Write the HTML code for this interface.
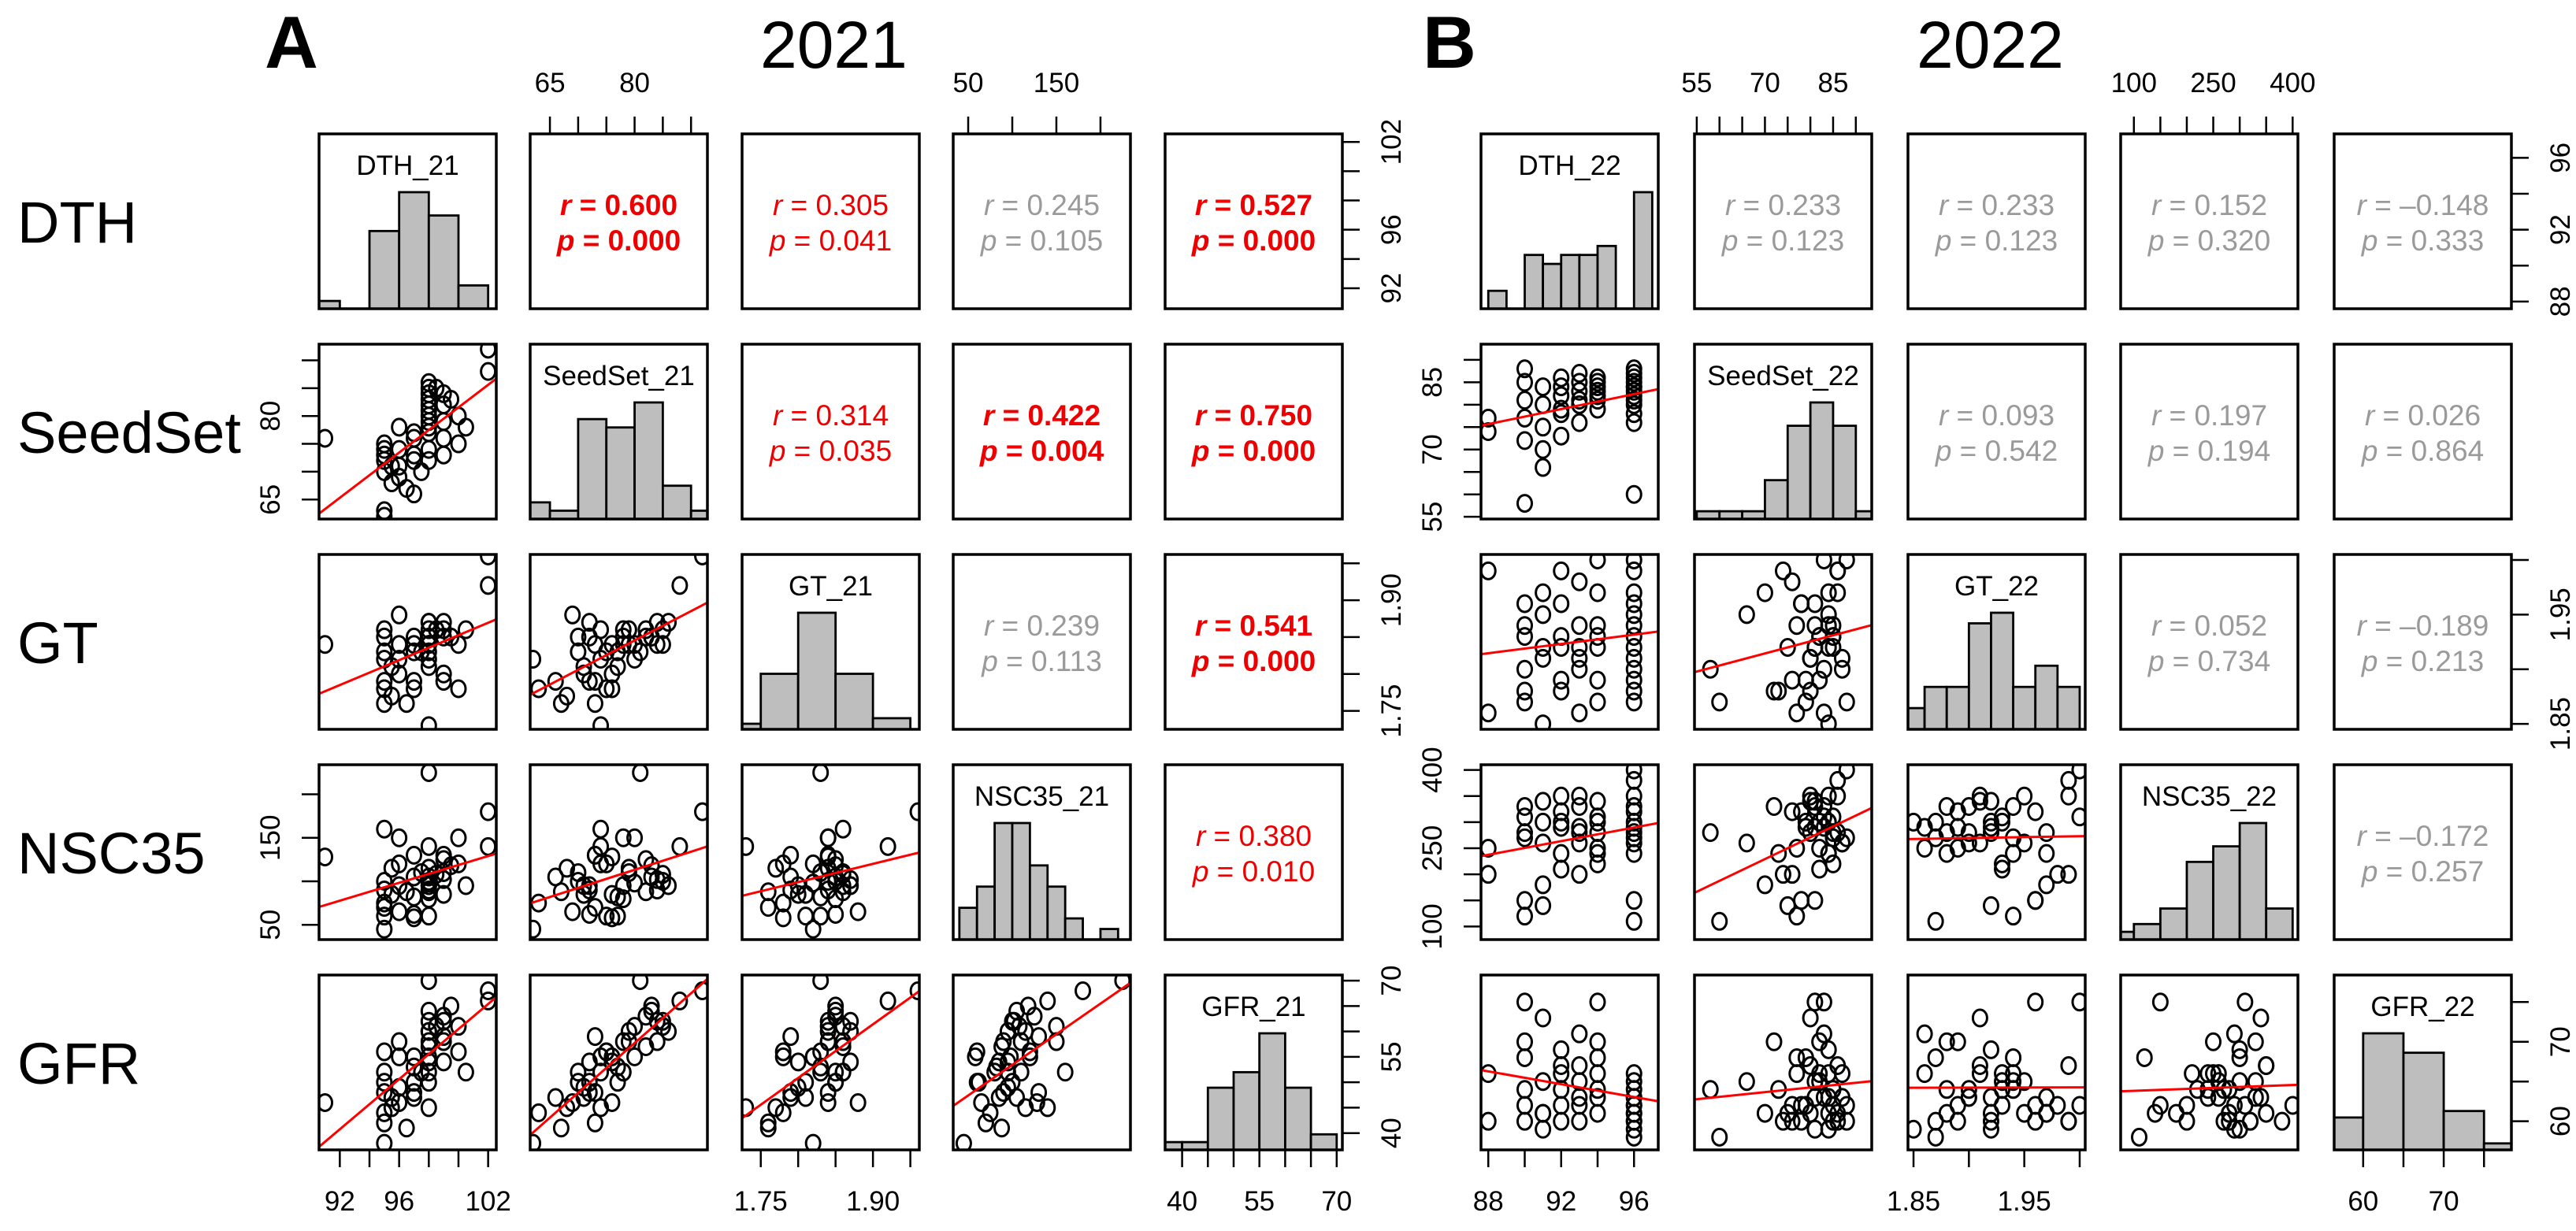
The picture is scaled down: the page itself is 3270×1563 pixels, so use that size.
<!DOCTYPE html>
<html><head><meta charset="utf-8"><style>
html,body{margin:0;padding:0;background:#fff;}
svg{display:block;font-family:"Liberation Sans",Arial,sans-serif;}
</style></head><body>
<svg id="chart" width="3270" height="1563" viewBox="0 0 3270 1563" xmlns="http://www.w3.org/2000/svg">
<text x="336" y="86" font-size="94" font-weight="bold">A</text>
<text x="965" y="86" font-size="84">2021</text>
<text x="1806" y="86" font-size="94" font-weight="bold">B</text>
<text x="2433" y="86" font-size="84">2022</text>
<g font-size="74">
<text x="22" y="308">DTH</text>
<text x="22" y="575">SeedSet</text>
<text x="22" y="842">GT</text>
<text x="22" y="1109">NSC35</text>
<text x="22" y="1376">GFR</text>
</g>
</svg>
<script>
// ---- 2021 data (DTH, SeedSet, GT, NSC35, GFR) ----
const dth21 = [91,95,95,95,95,95,95,95.5,95,95.5,96,96,96,96,96.5,97,97,97,97,97,97.5,98,98,98,98,98,98,98,98,98,98,98,98,98.5,99,99,99,99,99,99.5,100,100,100.5,102,102];
const seed21 = [76,62,63,72,74,73,70,71,75,68,78,71,69,74,67,72,66,77,73,76,70,86,85,84,83,82,80,79,78,77,74,72,81,85,84,82,79,76,73,83,80,75,78,92,88];
const gt21 = [1.84,1.82,1.78,1.79,1.86,1.76,1.85,1.81,1.83,1.77,1.84,1.80,1.88,1.82,1.76,1.85,1.79,1.83,1.84,1.78,1.83,1.87,1.84,1.84,1.85,1.86,1.82,1.84,1.85,1.81,1.73,1.87,1.83,1.86,1.87,1.85,1.86,1.80,1.79,1.85,1.84,1.78,1.86,1.96,1.92];
const nsc21 = [128,45,75,90,160,70,100,85,60,115,150,95,65,120,88,62,105,82,130,58,110,95,100,90,105,88,98,115,80,60,140,95,225,108,102,125,110,85,130,118,150,120,95,180,140];
const gfr21 = [46,38,44,48,52,42,50,47,56,45,58,49,46,55,41,50,47,53,48,55,52,60,62,58,64,57,55,60,52,50,45,54,70,61,62,63,58,54,59,65,61,56,52,68,66];
// ---- 2022 data ----
const dth22 = [88,88,90,90,90,90,90,90,91,91,91,91,91,92,92,92,92,92,92,93,93,93,93,93,93,94,94,94,94,94,94,94,96,96,96,96,96,96,96,96,96,96,96,96,96];
const seed22 = [77,74,85,81,72,58,77,88,80,70,84,66,75,86,79,82,78,73,84,87,81,83,76,80,85,83,82,84,81,86,79,85,88,86,84,83,82,81,80,85,87,78,76,60,84];
const gt22 = [1.86,1.99,1.93,1.96,1.88,1.90,1.94,1.87,1.91,1.97,1.85,1.95,1.92,1.99,1.89,1.93,1.96,1.88,1.92,1.90,1.94,1.86,1.98,1.91,1.92,2.00,1.89,1.94,1.92,1.97,1.87,1.93,2.00,1.99,1.95,1.90,1.93,1.92,1.88,1.94,1.91,1.96,1.89,1.87,1.97];
const nsc22 = [250,200,310,150,330,280,120,270,340,180,300,260,140,350,290,210,320,240,300,260,330,290,200,350,280,310,250,240,340,280,300,220,400,380,350,330,300,290,280,270,260,150,320,110,240];
const gfr22 = [66,60,62,75,70,64,68,60,73,61,59,65,61,67,62,66,60,64,69,63,65,71,62,67,60,75,70,66,63,61,68,64,62,60,61,63,65,59,61,64,66,62,60,58,63];
// ---- histogram counts ----
const hist21Counts = [[1,0,10,15,12,3],[2,1,12,11,14,4,1],[1,10,21,10,2],[3,5,11,11,7,5,2,0,1],[1,1,8,10,15,8,2]];
const hist21Starts = [90,60,1.70,40,35];
const hist21Widths = [2,5,0.05,20,5];
const hist22Counts = [[2,0,6,5,6,6,7,0,13],[1,1,1,5,12,15,12,1],[2,4,4,10,11,4,6,4],[1,2,4,10,12,15,4],[5,18,15,6,1]];
const hist22Starts = [88,55,1.84,50,55];
const hist22Widths = [1,5,0.02,50,5];
// ---- correlation text (upper panels) ----
const corr21R = {"0-1":"0.600","0-2":"0.305","0-3":"0.245","0-4":"0.527","1-2":"0.314","1-3":"0.422","1-4":"0.750","2-3":"0.239","2-4":"0.541","3-4":"0.380"};
const corr21P = {"0-1":"0.000","0-2":"0.041","0-3":"0.105","0-4":"0.000","1-2":"0.035","1-3":"0.004","1-4":"0.000","2-3":"0.113","2-4":"0.000","3-4":"0.010"};
const corr21Style = {"0-1":"bold","0-2":"red","0-3":"grey","0-4":"bold","1-2":"red","1-3":"bold","1-4":"bold","2-3":"grey","2-4":"bold","3-4":"red"};
const corr22R = {"0-1":"0.233","0-2":"0.233","0-3":"0.152","0-4":"\u20130.148","1-2":"0.093","1-3":"0.197","1-4":"0.026","2-3":"0.052","2-4":"\u20130.189","3-4":"\u20130.172"};
const corr22P = {"0-1":"0.123","0-2":"0.123","0-3":"0.320","0-4":"0.333","1-2":"0.542","1-3":"0.194","1-4":"0.864","2-3":"0.734","2-4":"0.213","3-4":"0.257"};
// ---- axis ticks ----
const ticks21 = [[92,94,96,98,100,102],[65,70,75,80,85,90],[1.75,1.80,1.85,1.90,1.95],[50,100,150,200],[40,45,50,55,60,65,70]];
const tickLabels21 = [["92","","96","","","102"],["65","","","80","",""],["1.75","","","1.90",""],["50","","150",""],["40","","","55","","","70"]];
const ticks22 = [[88,90,92,94,96],[55,60,65,70,75,80,85,90],[1.85,1.90,1.95,2.00],[100,150,200,250,300,350,400],[60,65,70,75]];
const tickLabels22 = [["88","","92","","96"],["55","","","70","","","85",""],["1.85","","1.95",""],["100","","","250","","","400"],["60","","70",""]];

const names = ["DTH","SeedSet","GT","NSC35","GFR"];
const NS = "http://www.w3.org/2000/svg";
const svg = document.getElementById('chart');
function mk(tag, attrs, parent){const e=document.createElementNS(NS,tag);for(const k in attrs)e.setAttribute(k,attrs[k]);(parent||svg).appendChild(e);return e;}

const tops=[170,437,704,971,1238], PH=222, PW=225;

function drawBlock(cfg){
  const data=cfg.data, lefts=cfg.lefts, dom=cfg.domains;
  const g=mk('g',{});
  
  
  const sx=(v,j)=>lefts[j]+(v-dom[j][0])/(dom[j][1]-dom[j][0])*PW;
  const sy=(v,i)=>tops[i]+PH-(v-dom[i][0])/(dom[i][1]-dom[i][0])*PH;
  for(let i=0;i<5;i++)for(let j=0;j<5;j++){
    const L=lefts[j],T=tops[i];
    const pg=mk('g',{},g);
    
    
    const cid=cfg.id+'c'+i+j;
    const cp=mk('clipPath',{id:cid},pg);mk('rect',{x:L,y:T,width:PW,height:PH},cp);
    const inner=mk('g',{'clip-path':'url(#'+cid+')'},pg);
    if(i===j){
      const counts=cfg.hc[i], mx=Math.max(...counts);
      counts.forEach((c,k)=>{
        if(c<=0) return;
        const a=cfg.hs[i]+k*cfg.hw[i], b=a+cfg.hw[i];
        const x1=sx(a,j),x2=sx(b,j),h=c/(1.5*mx)*PH;
        const r=mk('rect',{x:x1,y:T+PH-h,width:x2-x1,height:h,fill:'#bebebe',stroke:'#000','stroke-width':2.8},inner);
        
        
      });
      const t=mk('text',{x:L+PW/2,y:T+52,'font-size':35,'text-anchor':'middle'},pg);
      t.textContent=names[i]+cfg.suffix;
      
      
    } else if(i>j){
      const xs=data[j], ys=data[i], n=xs.length;
      let mxv=0,myv=0;for(let k=0;k<n;k++){mxv+=xs[k];myv+=ys[k];}mxv/=n;myv/=n;
      let sxy=0,sxx=0;for(let k=0;k<n;k++){sxy+=(xs[k]-mxv)*(ys[k]-myv);sxx+=(xs[k]-mxv)**2;}
      const b=sxy/sxx,a=myv-b*mxv;
      for(let k=0;k<n;k++){
        const c=mk('ellipse',{cx:sx(xs[k],j),cy:sy(ys[k],i),rx:9,ry:10.5,fill:'none',stroke:'#000','stroke-width':3},inner);
        
        
      }
      const x0=dom[j][0],x1=dom[j][1];
      const ln=mk('line',{x1:sx(x0,j),y1:sy(a+b*x0,i),x2:sx(x1,j),y2:sy(a+b*x1,i),stroke:'#f00','stroke-width':3},inner);
      
      
    } else {
      const key=i+'-'+j, st=cfg.style?cfg.style[key]:'grey';
      const col=st==='grey'?'#9a9a9a':'#ee0000', fw=st==='bold'?'bold':'normal';
      const t1=mk('text',{x:L+PW/2,y:T+103,'font-size':37,'text-anchor':'middle',fill:col,'font-weight':fw},pg);
      
      
      t1.setAttribute('xml:space','preserve');
      const neg=cfg.r[key].charAt(0)==='\u2013';
      t1.innerHTML='<tspan font-style="italic">r</tspan>'+(neg?' = ':'  = ')+cfg.r[key];
      const t2=mk('text',{x:L+PW/2,y:T+148,'font-size':37,'text-anchor':'middle',fill:col,'font-weight':fw},pg);
      
      
      t2.setAttribute('xml:space','preserve');
      t2.innerHTML='<tspan font-style="italic">p</tspan>  = '+cfg.p[key];
    }
    const border=mk('rect',{x:L,y:T,width:PW,height:PH,fill:'none',stroke:'#000','stroke-width':3.5},pg);
    
    
  }
  const TL=22;
  function hAxis(j,top){
    const ag=mk('g',{},g);
    
    
    const y0=top?tops[0]:tops[4]+PH, d=top?-1:1;
    const tk=cfg.ticks[j], lb=cfg.labels[j];
    mk('line',{x1:sx(tk[0],j),x2:sx(tk[tk.length-1],j),y1:y0,y2:y0,stroke:'#000','stroke-width':2.5},ag);
    tk.forEach((v,k)=>{
      mk('line',{x1:sx(v,j),x2:sx(v,j),y1:y0,y2:y0+d*TL,stroke:'#000','stroke-width':2.5},ag);
      if(lb[k]){const t=mk('text',{x:sx(v,j),y:top?117:1537,'font-size':35,'text-anchor':'middle'},ag);t.textContent=lb[k];}
    });
  }
  function vAxis(i,right){
    const ag=mk('g',{},g);
    
    
    const x0=right?lefts[4]+PW:lefts[0], d=right?1:-1;
    const tk=cfg.ticks[i], lb=cfg.labels[i];
    mk('line',{x1:x0,x2:x0,y1:sy(tk[0],i),y2:sy(tk[tk.length-1],i),stroke:'#000','stroke-width':2.5},ag);
    tk.forEach((v,k)=>{
      mk('line',{x1:x0,x2:x0+d*TL,y1:sy(v,i),y2:sy(v,i),stroke:'#000','stroke-width':2.5},ag);
      if(lb[k]){const lx=x0+d*62, ly=sy(v,i);
        const t=mk('text',{x:0,y:0,'font-size':35,'text-anchor':'middle',transform:'translate('+(lx+12)+','+ly+') rotate(-90)'},ag);t.textContent=lb[k];}
    });
  }
  hAxis(1,true);hAxis(3,true);
  hAxis(0,false);hAxis(2,false);hAxis(4,false);
  vAxis(0,true);vAxis(2,true);vAxis(4,true);
  vAxis(1,false);vAxis(3,false);
}

drawBlock({id:'a',suffix:'_21',data:[dth21,seed21,gt21,nsc21,gfr21],lefts:[405,673,942,1210,1479],
  domains:[[90.6,102.55],[61.5,92.9],[1.725,1.962],[33,234],[36.7,71.1]],
  hc:hist21Counts,hs:hist21Starts,hw:hist21Widths,r:corr21R,p:corr21P,style:corr21Style,ticks:ticks21,labels:tickLabels21});
drawBlock({id:'b',suffix:'_22',data:[dth22,seed22,gt22,nsc22,gfr22],lefts:[1880,2151,2422,2692,2963],
  domains:[[87.6,97.33],[54.5,93.5],[1.845,2.005],[75,410],[56.4,78.4]],
  hc:hist22Counts,hs:hist22Starts,hw:hist22Widths,r:corr22R,p:corr22P,style:null,ticks:ticks22,labels:tickLabels22});
</script>
</body></html>
